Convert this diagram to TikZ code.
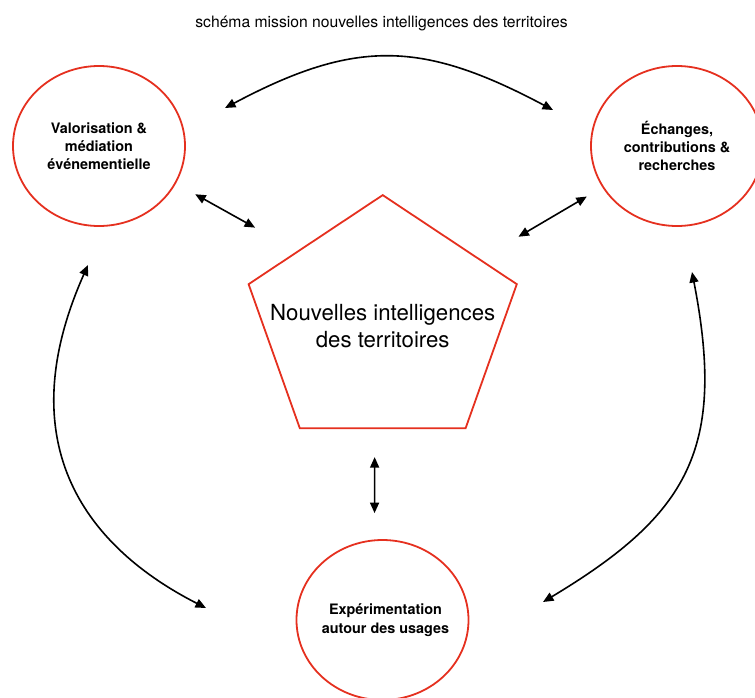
\documentclass[tikz,border=0pt]{standalone}
\usepackage{fontspec}
\setmainfont{TeX Gyre Heros}
\usepackage{xcolor}
\usetikzlibrary{arrows.meta,shapes.geometric}
\definecolor{ring}{HTML}{E5301F}

\begin{document}
\begin{tikzpicture}[x=1pt, y=1pt, >={Triangle[length=10.5pt, width=9pt]}, line cap=round,
  zone/.style={ellipse, draw=ring, line width=1.8pt, minimum width=172pt, minimum height=160pt, inner sep=0pt},
  zonetext/.style={align=center, font=\fontsize{14.4}{18.3}\selectfont\bfseries},
  link/.style={<->, black, line width=1.6pt}]
\useasboundingbox (0,0) rectangle (755,-697);
\node[anchor=base, font=\fontsize{15.7}{19}\selectfont] (title) at (381.5,-27) {schéma mission nouvelles intelligences des territoires};
\node[zone, label={[zonetext]center:Valorisation \&\\médiation\\événementielle}] (val) at (99,-146) {};
\node[zone, label={[zonetext]center:Échanges,\\contributions \&\\recherches}] (ech) at (677,-146) {};
\node[zone, label={[zonetext, xshift=3pt]center:Expérimentation\\autour des usages}] (exp) at (382.5,-620) {};
% pentagon, a little flattened
\begin{scope}[shift={(382.7,-324)}, yscale=0.914]
\node[regular polygon, regular polygon sides=5, transform shape, draw=ring, line width=1.8pt, minimum size=282pt, inner sep=0pt] (core) at (0,0) {};
\end{scope}
\node[align=center, font=\fontsize{22.2}{26.5}\selectfont] (coretext) at (382.7,-326) {Nouvelles intelligences\\des territoires};
% arrows to the centre
\draw[link, shorten <=22pt, shorten >=48pt] (val.-26) -- (core.137);
\draw[link, shorten <=18pt, shorten >=44pt] (ech.209) -- (core.36);
\draw[link, shorten <=28pt, shorten >=26pt] ([xshift=-8pt]core.south) -- ([xshift=-8pt]exp.north);
% arcs round the outside
\coordinate (ta) at (225,-108);
\coordinate (tb) at (553,-110);
\coordinate (la) at (88,-265);
\coordinate (lb) at (206,-608);
\coordinate (ra) at (692,-272);
\coordinate (rb) at (543,-602);
\draw[link] (ta) .. controls +(28:148) and +(152:148) .. (tb);
\draw[link] (la) .. controls +(246:200) and +(153:130) .. (lb);
\draw[link] (ra) .. controls +(281:180) and +(31:170) .. (rb);
\end{tikzpicture}
\end{document}
